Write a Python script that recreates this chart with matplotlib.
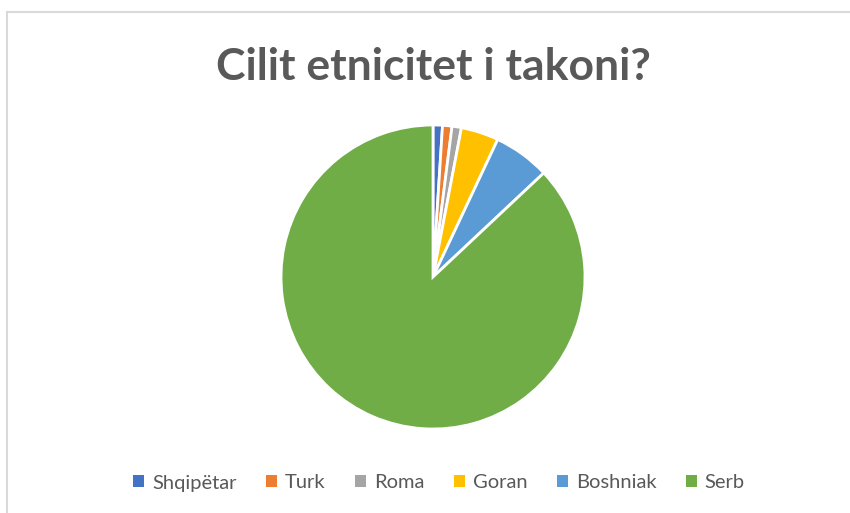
import matplotlib
matplotlib.use("Agg")
import matplotlib.pyplot as plt
from matplotlib.lines import Line2D
from matplotlib.patches import Patch

labels = ["Shqipëtar", "Turk", "Roma", "Goran", "Boshniak", "Serb"]
values = [1, 1, 1, 4, 6, 87]
colors = ["#4472C4", "#ED7D31", "#A5A5A5", "#FFC000", "#5B9BD5", "#70AD47"]

W, H = 850, 513
fig = plt.figure(figsize=(W / 100, H / 100), dpi=100)

# chart frame (only top and left edges visible in the crop)
fig.add_artist(Line2D([7 / W, 7 / W], [0, 1 - 12 / H], color="#D9D9D9", lw=1.5))
fig.add_artist(Line2D([7 / W, 1], [1 - 12 / H, 1 - 12 / H], color="#D9D9D9", lw=1.5))

fig.text(433 / W, 1 - 67 / H, "Cilit etnicitet i takoni?", ha="center", va="center",
         fontsize=32, fontweight="bold", color="#595959", family="Lato")

cx, cy, r = 433, 277, 152
ax = fig.add_axes([(cx - r) / W, (H - cy - r) / H, 2 * r / W, 2 * r / H])
ax.pie(values, colors=colors, startangle=90, counterclock=False,
       wedgeprops=dict(edgecolor="white", linewidth=2))
ax.set_xlim(-1.0, 1.0)
ax.set_ylim(-1.0, 1.0)
ax.set_aspect("equal")
ax.axis("off")

handles = [Patch(facecolor=c, edgecolor="none") for c in colors]
fig.legend(handles, labels, loc="center", bbox_to_anchor=(439 / W, 1 - 483 / H),
           ncol=6, frameon=False, handlelength=0.55, handleheight=0.55,
           handletextpad=0.4, columnspacing=1.45,
           prop=dict(family="Lato", size=14.5), labelcolor="#595959")

fig.savefig("out.png", dpi=100)
